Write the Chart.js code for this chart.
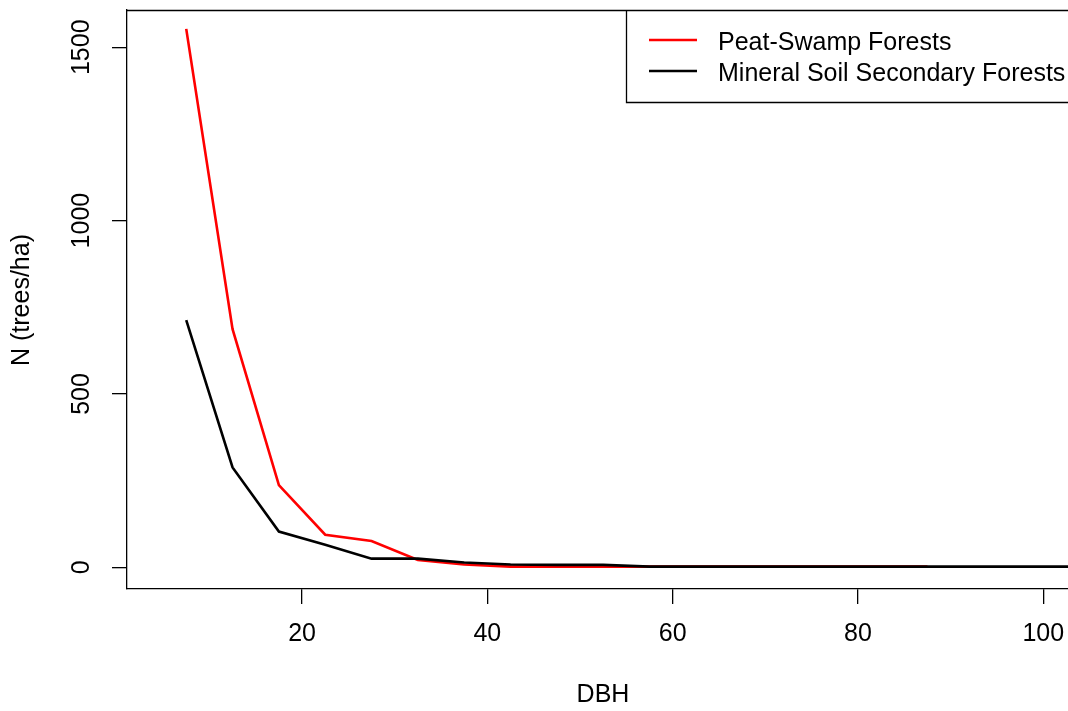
<!DOCTYPE html>
<html>
<head>
<meta charset="utf-8">
<script src="https://cdn.jsdelivr.net/npm/chart.js@4.4.0/dist/chart.umd.min.js"></script>
<style>
  html, body { margin: 0; padding: 0; background: #fff; }
  #wrap { width: 1068px; height: 711px; position: relative; }
</style>
</head>
<body>
<div id="wrap"><canvas id="c" width="1068" height="711"></canvas></div>
<script>
// DBH class midpoints (cm)
const dbhPeat = [7.5, 12.5, 17.5, 22.5, 27.5, 32.5, 37.5, 42.5, 47.5, 52.5, 57.5, 62.5, 67.5, 72.5, 77.5, 82.5, 87.5];
const nPeat   = [1553, 687, 237, 94, 76, 21, 8, 2, 2, 2, 2, 2, 2, 2, 2, 2, 2];
const dbhMineral = [7.5, 12.5, 17.5, 22.5, 27.5, 32.5, 37.5, 42.5, 47.5, 52.5, 57.5, 62.5, 67.5, 72.5, 77.5, 82.5, 87.5, 92.5, 97.5, 102.5, 107.5];
const nMineral   = [713, 288, 103, 65, 25, 25, 14, 8, 7, 7, 2, 2, 2, 2, 2, 2, 2, 2, 2, 2, 2];
const xTicks = [20, 40, 60, 80, 100];
const yTicks = [0, 500, 1000, 1500];
const seriesNames = ['Peat-Swamp Forests', 'Mineral Soil Secondary Forests'];
const seriesColors = ['#ff0000', '#000000'];
const xTitle = 'DBH';
const yTitle = 'N (trees/ha)';

const FONT = '25px "Liberation Sans", Arial, sans-serif';

const decor = {
  id: 'decor',
  afterDraw(chart) {
    const ctx = chart.ctx;
    const a = chart.chartArea;
    const xs = chart.scales.x, ys = chart.scales.y;
    ctx.save();
    // top border of plot box
    ctx.strokeStyle = '#000';
    ctx.lineWidth = 1.3;
    ctx.beginPath();
    ctx.moveTo(a.left, a.top + 0.5);
    ctx.lineTo(chart.width, a.top + 0.5);
    ctx.stroke();

    ctx.fillStyle = '#000';
    ctx.font = FONT;
    ctx.textAlign = 'center';
    ctx.textBaseline = 'middle';
    xTicks.forEach(v => {
      ctx.fillText(String(v), xs.getPixelForValue(v), 634);
    });
    yTicks.forEach(v => {
      ctx.save();
      ctx.translate(82, ys.getPixelForValue(v));
      ctx.rotate(-Math.PI / 2);
      ctx.fillText(String(v), 0, 0);
      ctx.restore();
    });
    ctx.fillText(xTitle, 603, 695);
    ctx.save();
    ctx.translate(22, 300);
    ctx.rotate(-Math.PI / 2);
    ctx.fillText(yTitle, 0, 0);
    ctx.restore();

    // legend box
    const lx = 626, ly = a.top, lh = 92;
    ctx.lineWidth = 1.3;
    ctx.strokeStyle = '#000';
    ctx.beginPath();
    ctx.moveTo(chart.width, ly + lh + 0.5);
    ctx.lineTo(lx + 0.5, ly + lh + 0.5);
    ctx.lineTo(lx + 0.5, ly);
    ctx.stroke();
    ctx.textAlign = 'left';
    const rows = [40, 71];
    seriesNames.forEach((n, i) => {
      ctx.strokeStyle = seriesColors[i];
      ctx.lineWidth = 2.6;
      ctx.beginPath();
      ctx.moveTo(649, rows[i]);
      ctx.lineTo(697, rows[i]);
      ctx.stroke();
      ctx.fillStyle = '#000';
      ctx.fillText(n, 718, rows[i] + 3);
    });
    ctx.restore();
  }
};

new Chart(document.getElementById('c'), {
  type: 'line',
  data: {
    datasets: [
      { label: seriesNames[1], data: dbhMineral.map((x, i) => ({ x, y: nMineral[i] })),
        borderColor: seriesColors[1], borderWidth: 2.6, pointRadius: 0, tension: 0, fill: false },
      { label: seriesNames[0], data: dbhPeat.map((x, i) => ({ x, y: nPeat[i] })),
        borderColor: seriesColors[0], borderWidth: 2.6, pointRadius: 0, tension: 0, fill: false }
    ]
  },
  options: {
    responsive: false,
    animation: false,
    devicePixelRatio: 1,
    layout: { padding: { top: 10, left: 0, right: 0, bottom: 0 } },
    plugins: { legend: { display: false }, tooltip: { enabled: false } },
    scales: {
      x: {
        type: 'linear', min: 1.107, max: 102.67,
        afterBuildTicks(s) { s.ticks = xTicks.map(v => ({ value: v })); },
        ticks: { display: false },
        grid: { drawOnChartArea: false, drawTicks: true, tickLength: 15, color: '#000', lineWidth: 1.3 },
        border: { display: true, color: '#000', width: 1.3 },
        afterFit(s) { s.height = 122; }
      },
      y: {
        type: 'linear', min: -62.6, max: 1607.5,
        afterBuildTicks(s) { s.ticks = yTicks.map(v => ({ value: v })); },
        ticks: { display: false },
        grid: { drawOnChartArea: false, drawTicks: true, tickLength: 15, color: '#000', lineWidth: 1.3 },
        border: { display: true, color: '#000', width: 1.3 },
        afterFit(s) { s.width = 127; }
      }
    }
  },
  plugins: [decor]
});
</script>
</body>
</html>
